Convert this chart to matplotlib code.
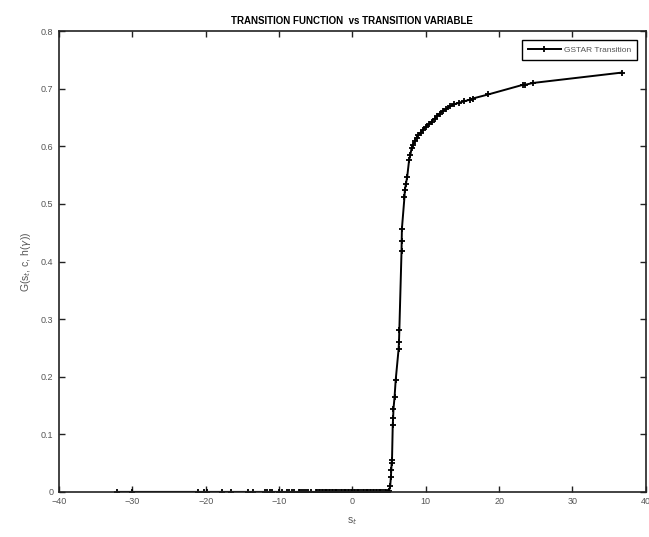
import numpy as np
import matplotlib
matplotlib.use("Agg")
import matplotlib.pyplot as plt

plt.rcParams["font.family"] = ["Liberation Sans", "DejaVu Sans"]

# transition variable s_t and fitted transition function G
s_flat = [-32.1, -30.0, -21.0, -20.3, -19.8, -17.8, -16.5, -14.2, -13.6,
          -11.9, -11.6, -11.3, -10.9, -10.0, -9.6, -8.9, -8.6, -8.3, -8.0,
          -7.3, -7.1, -6.9, -6.6, -6.3, -6.0, -5.7, -5.0, -4.85, -4.6, -4.45,
          -4.2, -4.05, -3.8, -3.6, -3.45, -3.2, -3.05, -2.8, -2.65, -2.4,
          -2.2, -2.05, -1.8, -1.6, -1.45, -1.2, -1.0, -0.85, -0.6, -0.4,
          -0.25, 0.0, 0.2, 0.35, 0.6, 0.8, 0.95, 1.2, 1.4, 1.55, 1.8, 2.0,
          2.15, 2.4, 2.6, 2.75, 3.0, 3.2, 3.35, 3.6, 3.8, 3.95, 4.2, 4.4,
          4.55, 4.8]
g_flat = [0.0] * len(s_flat)

s_rise = [5.0, 5.15, 5.25, 5.3, 5.35, 5.4, 5.5, 5.55, 5.6, 5.75, 5.9, 6.3,
          6.35, 6.4, 6.7, 6.72, 6.75, 7.1, 7.15, 7.3, 7.47, 7.74, 7.9, 8.07,
          8.3, 8.5, 8.74, 9.0, 9.3, 9.65, 10.0, 10.4, 10.8, 11.2, 11.5, 11.9,
          12.3, 12.8, 13.3, 13.9, 14.6, 15.2, 16.0, 16.4, 18.5, 23.3, 23.6,
          24.6, 36.7]
g_rise = [0.002, 0.01, 0.026, 0.038, 0.05, 0.055, 0.116, 0.128, 0.144,
          0.165, 0.194, 0.248, 0.26, 0.281, 0.419, 0.436, 0.457, 0.512, 0.524,
          0.535, 0.547, 0.577, 0.585, 0.597, 0.603, 0.61, 0.615, 0.62, 0.624,
          0.629, 0.634, 0.638, 0.643, 0.648, 0.652, 0.657, 0.661, 0.665, 0.67,
          0.673, 0.676, 0.678, 0.681, 0.683, 0.69, 0.707, 0.707, 0.71, 0.728]

s = np.array(s_flat + s_rise)
g = np.array(g_flat + g_rise)

xticks = [-40, -30, -20, -10, 0, 10, 20, 30, 40]
yticks = [0, 0.1, 0.2, 0.3, 0.4, 0.5, 0.6, 0.7, 0.8]
ylabels = ["0", "0.1", "0.2", "0.3", "0.4", "0.5", "0.6", "0.7", "0.8"]

fig = plt.figure(figsize=(6.49, 5.37), dpi=100)
ax = fig.add_axes([0.091, 0.084, 0.904, 0.858])
ax.plot(s, g, "-+", color="black", lw=1.4, ms=5, mew=1.3,
        label="GSTAR Transition")

ax.set_xlim(-40, 40); ax.set_ylim(0, 0.8)
ax.set_xticks(xticks); ax.set_yticks(yticks)
ax.set_yticklabels(ylabels)
ax.tick_params(direction="in", length=4, width=1, top=True, right=True,
               labelsize=6.5, labelcolor="#555555", color="#222222", pad=4)
for sp in ax.spines.values():
    sp.set_linewidth(1.2); sp.set_color("#222222")

ax.set_title("TRANSITION FUNCTION  vs TRANSITION VARIABLE", fontsize=7,
             fontweight="bold", pad=5)
ax.set_xlabel("s$_t$", fontsize=7.5, color="#555555", labelpad=6)
ax.set_ylabel(r"G(s$_t$, c, h($\gamma$))", fontsize=7.5, color="#555555",
              labelpad=6)

leg = ax.legend(loc="upper right", fontsize=6, handlelength=4.0,
                handletextpad=0.3, fancybox=False, framealpha=1,
                borderaxespad=1.1, borderpad=0.7)
leg.get_frame().set_edgecolor("black"); leg.get_frame().set_linewidth(1.0)
for t in leg.get_texts():
    t.set_color("#555555")

fig.savefig("out.png", dpi=100)
